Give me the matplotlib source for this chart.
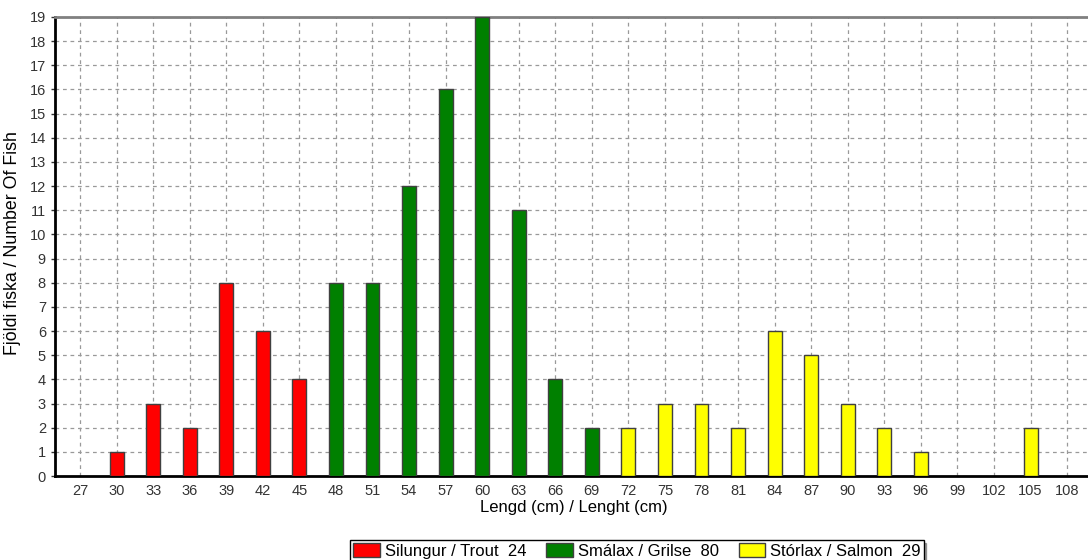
import matplotlib
matplotlib.use("Agg")
import matplotlib.pyplot as plt
from matplotlib.patches import Patch

plt.rcParams["font.family"] = ["Liberation Sans", "DejaVu Sans"]

# lengths (cm) shown as categories on the x axis
lengths = [27, 30, 33, 36, 39, 42, 45, 48, 51, 54, 57, 60, 63, 66,
           69, 72, 75, 78, 81, 84, 87, 90, 93, 96, 99, 102, 105, 108]
trout = [0, 1, 3, 2, 8, 6, 4, 0, 0, 0, 0, 0, 0, 0,
         0, 0, 0, 0, 0, 0, 0, 0, 0, 0, 0, 0, 0, 0]
grilse = [0, 0, 0, 0, 0, 0, 0, 8, 8, 12, 16, 19, 11, 4,
          2, 0, 0, 0, 0, 0, 0, 0, 0, 0, 0, 0, 0, 0]
salmon = [0, 0, 0, 0, 0, 0, 0, 0, 0, 0, 0, 0, 0, 0,
          0, 2, 3, 3, 2, 6, 5, 3, 2, 1, 0, 0, 2, 0]
names = ["Silungur / Trout", "Smálax / Grilse", "Stórlax / Salmon"]
colors = ["#ff0000", "#008000", "#ffff00"]

W, H = 1088, 560
fig = plt.figure(figsize=(W / 100, H / 100), dpi=100)
ax = fig.add_axes([55 / W, (H - 476) / H, (1092 - 55) / W, (476 - 17) / H])

x = list(range(len(lengths)))
for series, col in zip([trout, grilse, salmon], colors):
    xs = [i for i, v in zip(x, series) if v > 0]
    vs = [v for v in series if v > 0]
    ax.bar(xs, vs, width=0.38, color=col, edgecolor="#404040", linewidth=1, zorder=3)

ax.set_xlim(-0.684, 27.68)
ax.set_ylim(0, 19)
ax.set_xticks(x)
ax.set_xticklabels([str(v) for v in lengths])
ax.set_yticks(range(0, 20))
ax.tick_params(axis="both", labelsize=10.5, colors="#333333", length=3, width=1)
ax.tick_params(axis="x", length=0, pad=6)
ax.grid(True, linestyle=(0, (3, 3)), color="#999999", linewidth=0.9, zorder=0)

for side in ["left", "bottom"]:
    ax.spines[side].set_color("black")
    ax.spines[side].set_linewidth(2)
ax.spines["top"].set_color("#808080")
ax.spines["top"].set_linewidth(2)
ax.spines["right"].set_visible(False)

ax.set_xlabel("Lengd (cm) / Lenght (cm)", fontsize=12, labelpad=1)
ax.set_ylabel("Fjöldi fiska / Number Of Fish", fontsize=12.8)
ax.yaxis.set_label_coords(-0.0328, 0.508)

totals = [sum(trout), sum(grilse), sum(salmon)]
handles = [Patch(facecolor=c, edgecolor="#404040") for c in colors]
labels = [f"{n}  {t}" for n, t in zip(names, totals)]
leg = fig.legend(handles, labels, ncol=3, loc="upper center",
                 bbox_to_anchor=(637 / W, (H - 540) / H), fontsize=12, frameon=True,
                 fancybox=False, shadow=True, borderpad=0.15, handlelength=1.6,
                 handleheight=1.0, handletextpad=0.3, columnspacing=1.2,
                 borderaxespad=0)
leg.get_frame().set_edgecolor("black")
leg.get_frame().set_linewidth(1)

fig.savefig("out.png", dpi=100)
